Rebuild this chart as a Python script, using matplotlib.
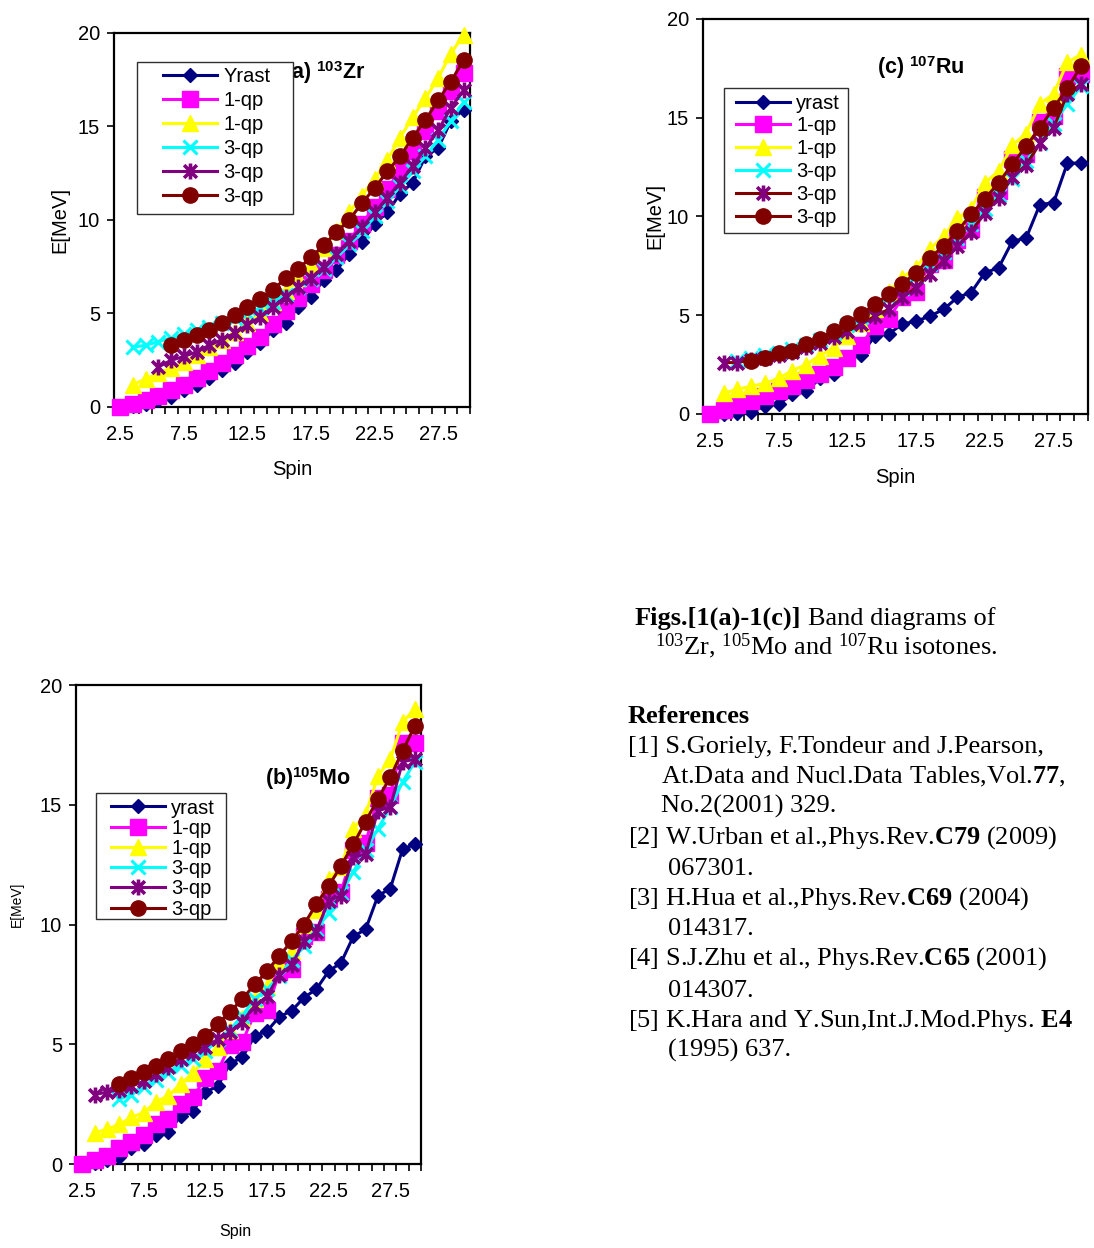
import numpy as np
import matplotlib
matplotlib.use("Agg")
import matplotlib.pyplot as plt
from matplotlib.path import Path
from matplotlib.patches import Rectangle

plt.rcParams['font.family'] = ['Liberation Sans', 'DejaVu Sans']
plt.rcParams['mathtext.fontset'] = 'custom'
plt.rcParams['mathtext.rm'] = 'Liberation Serif'
plt.rcParams['mathtext.it'] = 'Liberation Serif:italic'
plt.rcParams['mathtext.bf'] = 'Liberation Serif:bold'
plt.rcParams['mathtext.sf'] = 'Liberation Sans:bold'

# ---- data ----
spin = [2.5, 3.5, 4.5, 5.5, 6.5, 7.5, 8.5, 9.5, 10.5, 11.5, 12.5, 13.5, 14.5, 15.5,
        16.5, 17.5, 18.5, 19.5, 20.5, 21.5, 22.5, 23.5, 24.5, 25.5, 26.5, 27.5, 28.5, 29.5]
xtick_labels = ["2.5", "7.5", "12.5", "17.5", "22.5", "27.5"]

# (a) 103Zr
zr_yrast = [0.0, 0.05, 0.15, 0.35, 0.55, 0.9, 1.2, 1.55, 2.0, 2.35, 2.95, 3.4, 4.1, 4.5,
            5.35, 5.9, 6.8, 7.3, 8.2, 8.8, 9.8, 10.4, 11.4, 12.0, 13.4, 13.85, 15.3, 15.9]
zr_1qp_a = [0.0, 0.15, 0.35, 0.6, 0.9, 1.2, 1.55, 1.95, 2.35, 2.8, 3.25, 3.75, 4.45, 5.15,
            5.85, 6.55, 7.35, 8.15, 8.9, 9.8, 10.7, 11.65, 12.65, 13.7, 14.75, 15.8, 16.9, 17.85]
zr_1qp_b = [None, 1.2, 1.5, 1.8, 2.1, 2.4, 2.8, 3.2, 3.6, 4.0, 4.5, 5.0, 5.6, 6.2,
            6.9, 7.6, 8.5, 9.4, 10.4, 11.3, 12.2, 13.2, 14.4, 15.5, 16.5, 17.6, 18.9, 19.9]
zr_3qp_a = [None, 3.2, 3.3, 3.5, 3.7, 3.9, 4.1, 4.3, 4.5, 4.75, 5.0, 5.3, 5.6, 6.0,
            6.4, 6.85, 7.4, 8.0, 8.7, 9.4, 10.2, 11.0, 11.8, 12.6, 13.4, 14.3, 15.3, 16.3]
zr_3qp_b = [None, None, None, 2.15, 2.5, 2.7, 2.95, 3.3, 3.6, 3.95, 4.4, 4.8, 5.35, 5.9,
            6.4, 6.9, 7.5, 8.2, 8.9, 9.6, 10.4, 11.2, 12.0, 12.9, 13.85, 14.8, 16.0, 16.95]
zr_3qp_c = [None, None, None, None, 3.3, 3.6, 3.85, 4.1, 4.5, 4.9, 5.35, 5.8, 6.25, 6.9,
            7.4, 8.0, 8.65, 9.35, 10.0, 10.9, 11.7, 12.6, 13.4, 14.4, 15.35, 16.4, 17.4, 18.55]

# (b) 105Mo
mo_yrast = [0.0, 0.05, 0.15, 0.3, 0.65, 0.85, 1.2, 1.35, 2.0, 2.2, 3.0, 3.25, 4.2, 4.45,
            5.35, 5.55, 6.15, 6.4, 6.95, 7.3, 8.05, 8.4, 9.5, 9.8, 11.2, 11.5, 13.15, 13.35]
mo_1qp_a = [0.0, 0.15, 0.35, 0.65, 0.9, 1.2, 1.65, 1.9, 2.5, 2.8, 3.6, 3.9, 4.95, 5.1,
            6.3, 6.45, 8.0, 8.15, 9.5, 9.7, 11.05, 11.35, 13.1, 13.4, 15.3, 15.4, 17.6, 17.6]
mo_1qp_b = [None, 1.3, 1.45, 1.65, 1.95, 2.15, 2.6, 2.85, 3.35, 3.8, 4.4, 4.9, 5.6, 6.1,
            6.9, 7.4, 8.4, 8.9, 10.0, 10.6, 11.9, 12.4, 14.0, 14.6, 16.2, 16.9, 18.45, 19.0]
mo_3qp_a = [None, None, None, 2.7, 2.9, 3.2, 3.5, 3.8, 4.1, 4.4, 4.7, 5.2, 5.6, 6.2,
            6.9, 7.3, 7.85, 8.5, 9.1, 9.8, 10.5, 11.3, 12.2, 13.1, 14.0, 14.9, 15.95, 16.8]
mo_3qp_b = [None, 2.9, 3.0, 3.1, 3.25, 3.45, 3.75, 4.05, 4.4, 4.65, 4.9, 5.2, 5.5, 5.95,
            6.6, 7.0, 7.9, 8.3, 9.3, 9.7, 11.0, 11.2, 12.8, 12.95, 14.75, 14.9, 16.8, 16.9]
mo_3qp_c = [None, None, None, 3.35, 3.6, 3.85, 4.1, 4.4, 4.7, 5.0, 5.35, 5.85, 6.35, 6.9,
            7.5, 8.05, 8.7, 9.3, 10.0, 10.85, 11.6, 12.45, 13.35, 14.3, 15.25, 16.15, 17.25, 18.3]

# (c) 107Ru
ru_yrast = [0.0, 0.0, 0.05, 0.1, 0.4, 0.5, 1.0, 1.15, 1.8, 2.0, 2.8, 3.0, 3.95, 4.05,
            4.55, 4.7, 4.95, 5.3, 5.9, 6.15, 7.15, 7.4, 8.75, 8.9, 10.6, 10.7, 12.7, 12.7]
ru_1qp_a = [0.0, 0.2, 0.45, 0.65, 0.9, 1.15, 1.4, 1.7, 2.0, 2.4, 2.85, 3.5, 4.45, 4.8,
            5.9, 6.2, 7.6, 7.8, 8.8, 9.35, 11.0, 11.3, 12.9, 13.15, 14.8, 15.1, 17.1, 17.2]
ru_1qp_b = [None, 1.05, 1.25, 1.4, 1.55, 1.8, 2.2, 2.5, 2.95, 3.35, 3.95, 4.6, 5.3, 6.2,
            6.9, 7.4, 8.35, 9.0, 9.9, 10.4, 11.7, 12.3, 13.6, 14.2, 15.7, 16.2, 17.8, 18.2]
ru_3qp_a = [None, None, 2.7, 2.85, 3.0, 3.1, 3.3, 3.5, 3.75, 4.1, 4.5, 4.9, 5.4, 5.9,
            6.4, 7.0, 7.6, 8.2, 8.9, 9.6, 10.4, 11.1, 11.9, 12.8, 13.7, 14.7, 15.7, 16.6]
ru_3qp_b = [None, 2.6, 2.6, 2.75, 2.85, 3.0, 3.15, 3.4, 3.6, 3.9, 4.2, 4.55, 4.95, 5.3,
            5.9, 6.4, 7.1, 7.75, 8.5, 9.2, 10.2, 10.95, 12.0, 12.6, 13.7, 14.5, 16.2, 16.7]
ru_3qp_c = [None, None, None, 2.7, 2.85, 3.1, 3.2, 3.55, 3.8, 4.2, 4.6, 5.05, 5.55, 6.05,
            6.6, 7.15, 7.9, 8.5, 9.25, 10.1, 10.9, 11.7, 12.65, 13.55, 14.5, 15.5, 16.5, 17.6]

labels_a = ["Yrast", "1-qp", "1-qp", "3-qp", "3-qp", "3-qp"]
labels_bc = ["yrast", "1-qp", "1-qp", "3-qp", "3-qp", "3-qp"]

# Excel-like star marker: vertical bar plus an X
STAR = Path([(0, -1), (0, 1), (-0.8, -0.8), (0.8, 0.8), (-0.8, 0.8), (0.8, -0.8)],
            [Path.MOVETO, Path.LINETO] * 3)

styles = [
    dict(color='#000080', marker='D', ms=7.5, mew=1),
    dict(color='#FF00FF', marker='s', ms=11, mew=1),
    dict(color='#FFFF00', marker='^', ms=12, mew=1),
    dict(color='#00FFFF', marker='x', ms=9.5, mew=2.2),
    dict(color='#800080', marker=STAR, ms=11.5, mew=2.6),
    dict(color='#800000', marker='o', ms=11, mew=1),
]

FS = 14.5


def draw_panel(ax, series, labels, title, title_xy, leg_anchor, leg_frame, lspace,
               ylab_xy, xlab_xy, ylab_fs, xlab_fs, line_colors=None):
    for i, (vals, lab, st) in enumerate(zip(series, labels, styles)):
        lc = line_colors[i] if line_colors else st['color']
        ax.plot(spin, np.array(vals, dtype=float), label=lab, lw=2.2, color=lc,
                marker=st['marker'], ms=st['ms'], mew=st['mew'], mec=st['color'],
                mfc=st['color'], clip_on=False, zorder=3)

    ax.set_xlim(2, 30)
    ax.set_ylim(0, 20)
    ax.set_yticks([0, 5, 10, 15, 20])
    ax.set_xticks([2.5, 7.5, 12.5, 17.5, 22.5, 27.5])
    ax.set_xticklabels(xtick_labels)
    ax.set_xticks(np.arange(2, 31), minor=True)
    ax.tick_params(axis='x', which='major', length=0, pad=13, labelsize=FS)
    ax.tick_params(axis='x', which='minor', length=5, width=1.2, direction='out')
    ax.tick_params(axis='y', which='major', length=5, width=1.2, direction='out',
                   pad=5, labelsize=FS)
    for sp in ax.spines.values():
        sp.set_linewidth(1.6)

    ax.set_ylabel("E[MeV]", fontsize=ylab_fs)
    ax.yaxis.set_label_coords(*ylab_xy)
    ax.yaxis.label.set_va('center')
    ax.set_xlabel("Spin", fontsize=xlab_fs)
    ax.xaxis.set_label_coords(*xlab_xy)
    ax.xaxis.label.set_va('center')

    ax.text(title_xy[0], title_xy[1], title, transform=ax.transAxes, fontsize=15.5,
            fontweight='bold', va='baseline', ha='left', zorder=3)

    ax.add_patch(Rectangle(leg_frame[:2], leg_frame[2], leg_frame[3], transform=ax.transAxes,
                           facecolor='white', edgecolor='#303030', lw=1.0, zorder=5.5,
                           clip_on=False))
    leg = ax.legend(loc='upper left', bbox_to_anchor=leg_anchor, frameon=False, fontsize=FS,
                    handlelength=2.7, handletextpad=0.3, labelspacing=lspace, borderpad=0,
                    borderaxespad=0, numpoints=1)
    leg.set_zorder(6)


fig = plt.figure(figsize=(10.94, 12.48), dpi=100)

ax_a = fig.add_axes([0.1042, 0.6739, 0.3254, 0.2997])
draw_panel(ax_a, [zr_yrast, zr_1qp_a, zr_1qp_b, zr_3qp_a, zr_3qp_b, zr_3qp_c], labels_a,
           r"(a) $^{\mathsf{103}}$Zr", (0.478, 0.877), (0.1376, 0.910),
           (0.0646, 0.516, 0.438, 0.406), 0.25, (-0.152, 0.5), (0.5, -0.166), FS, FS)

ax_c = fig.add_axes([0.6426, 0.6683, 0.3519, 0.3165])
draw_panel(ax_c, [ru_yrast, ru_1qp_a, ru_1qp_b, ru_3qp_a, ru_3qp_b, ru_3qp_c], labels_bc,
           r"(c) $^{\mathsf{107}}$Ru", (0.452, 0.861), (0.0857, 0.811),
           (0.0545, 0.458, 0.322, 0.367), 0.19, (-0.125, 0.5), (0.5, -0.162), FS, FS,
           line_colors=['#000080', '#FF00FF', '#FFFF00', '#00FFFF', '#800000', '#800000'])

ax_b = fig.add_axes([0.0695, 0.0673, 0.3154, 0.3838])
draw_panel(ax_b, [mo_yrast, mo_1qp_a, mo_1qp_b, mo_3qp_a, mo_3qp_b, mo_3qp_c], labels_bc,
           r"(b)$^{\mathsf{105}}$Mo", (0.549, 0.791), (0.101, 0.763),
           (0.057, 0.511, 0.377, 0.263), 0.06, (-0.171, 0.543), (0.461, -0.14), 10, 11.5)

# ---- caption and references (right column) ----
W, H = 1094.0, 1248.0
SERIF = 'Liberation Serif'
TFS = 19


def put(x, y, s, **kw):
    return fig.text(x / W, 1 - y / H, s, fontsize=TFS, family=SERIF, va='baseline',
                    ha='left', **kw)


t1 = put(635, 625, "Figs.[1(a)-1(c)]", fontweight='bold')
ax_a.annotate("Band diagrams of", xy=(1, 0), xycoords=t1, xytext=(6.6, 0),
              textcoords='offset pixels', fontsize=TFS, family=SERIF, va='bottom',
              ha='left', annotation_clip=False)
put(655, 654, r"$^{103}$Zr, $^{105}$Mo and $^{107}$Ru isotones.")

put(628, 723, "References", fontweight='bold')
put(628, 753, "[1] S.Goriely, F.Tondeur and J.Pearson,")
put(661, 783, r"At.Data and Nucl.Data Tables,Vol.$\mathbf{77}$,")
put(661, 813, "No.2(2001) 329.")
put(628, 844, r"[2] W.Urban et al.,Phys.Rev.$\mathbf{C79}$ (2009)")
put(668, 875, "067301.")
put(628, 905, r"[3] H.Hua et al.,Phys.Rev.$\mathbf{C69}$ (2004)")
put(668, 935, "014317.")
put(628, 965, r"[4] S.J.Zhu et al., Phys.Rev.$\mathbf{C65}$ (2001)")
put(668, 997, "014307.")
put(628, 1027, r"[5] K.Hara and Y.Sun,Int.J.Mod.Phys. $\mathbf{E4}$")
put(668, 1057, "(1995) 637.")

fig.savefig("out.png", dpi=100)
plt.close(fig)
